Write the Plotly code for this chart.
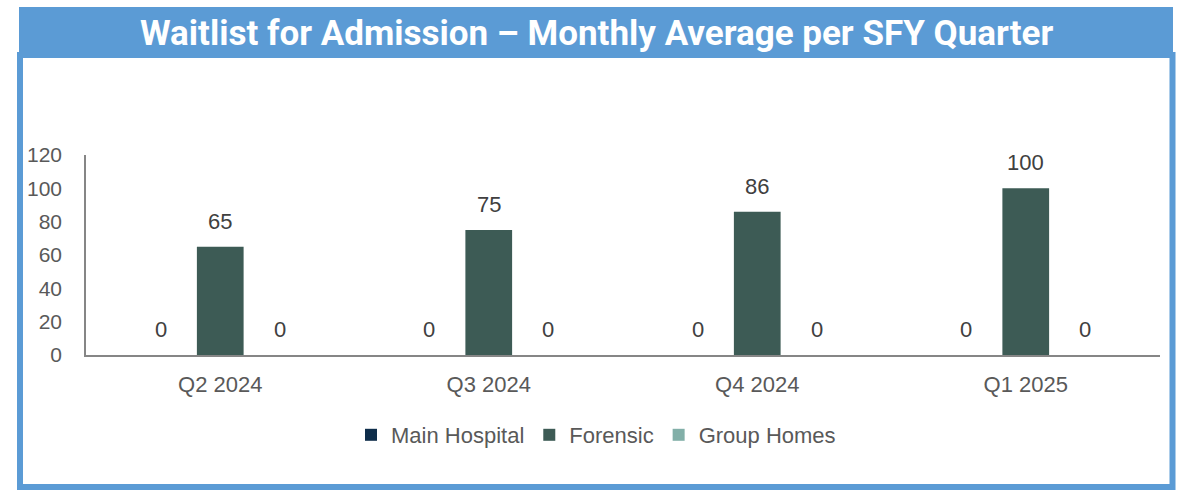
import plotly.graph_objects as go

quarters = ["Q2 2024", "Q3 2024", "Q4 2024", "Q1 2025"]
series_names = ["Main Hospital", "Forensic", "Group Homes"]
main_hospital = [0, 0, 0, 0]
forensic = [65, 75, 86, 100]
group_homes = [0, 0, 0, 0]
colors = ["#0E2D4A", "#3D5B55", "#82AFA8"]
title_text = "Waitlist for Admission – Monthly Average per SFY Quarter"

W, H = 1181, 490
BARGAP = 0.335
BARGROUPGAP = 0.215
FONT = "Liberation Sans, Arial"

fig = go.Figure()
all_series = [main_hospital, forensic, group_homes]
for name, vals, col in zip(series_names, all_series, colors):
    fig.add_trace(go.Bar(x=quarters, y=vals, name=name, marker_color=col,
                         marker_line_width=0))

# data labels
n = len(all_series)
slot = (1 - BARGAP) / n
annotations = []
for i, vals in enumerate(all_series):
    for j, v in enumerate(vals):
        annotations.append(dict(x=j + (i - (n - 1) / 2) * slot, y=v, xref="x", yref="y",
                                text=str(v), showarrow=False, yanchor="bottom",
                                yshift=11,
                                font=dict(family=FONT, size=22, color="#404040")))

annotations.append(dict(x=596 / W, y=1 - 33 / H, xref="paper", yref="paper",
                        text="<b>" + title_text + "</b>", showarrow=False,
                        xanchor="center", yanchor="middle",
                        font=dict(family="Roboto", size=35, color="white")))

shapes = [
    dict(type="rect", xref="paper", yref="paper", x0=20 / W, x1=1172.5 / W,
         y0=1 - 55 / H, y1=1 - 487 / H, line=dict(color="#5B9BD5", width=6),
         fillcolor="rgba(0,0,0,0)", layer="below"),
    dict(type="rect", xref="paper", yref="paper", x0=19 / W, x1=1173 / W,
         y0=1 - 7 / H, y1=1 - 58 / H, line=dict(width=0), fillcolor="#5B9BD5",
         layer="below"),
]

fig.update_layout(
    width=W, height=H,
    margin=dict(l=0, r=0, t=0, b=0, pad=0, autoexpand=False),
    paper_bgcolor="white", plot_bgcolor="white",
    barmode="group", bargap=BARGAP, bargroupgap=BARGROUPGAP,
    font=dict(family=FONT, size=22, color="#595959"),
    showlegend=True,
    legend=dict(orientation="h", x=596 / W, xanchor="center", y=1 - 435 / H,
                yanchor="middle", font=dict(size=22, color="#595959"),
                traceorder="normal", bgcolor="rgba(0,0,0,0)"),
    annotations=annotations,
    shapes=shapes,
    xaxis=dict(domain=[86 / W, 1160 / W], showline=True, linecolor="#868686",
               linewidth=1.5, ticks="", showgrid=False, zeroline=False,
               automargin=False, ticklabelstandoff=9,
               tickfont=dict(size=22, color="#595959")),
    yaxis=dict(domain=[(H - 355) / H, (H - 155) / H], range=[0, 120],
               tickvals=[0, 20, 40, 60, 80, 100, 120], showline=True,
               linecolor="#868686", linewidth=1.5, ticks="", showgrid=False,
               zeroline=False, automargin=False, ticklabelstandoff=18,
               tickfont=dict(size=21, color="#595959")),
)

fig.write_html("out.html", config={"displayModeBar": False},
               post_script="document.body.style.margin='0';document.body.style.overflow='hidden';")
